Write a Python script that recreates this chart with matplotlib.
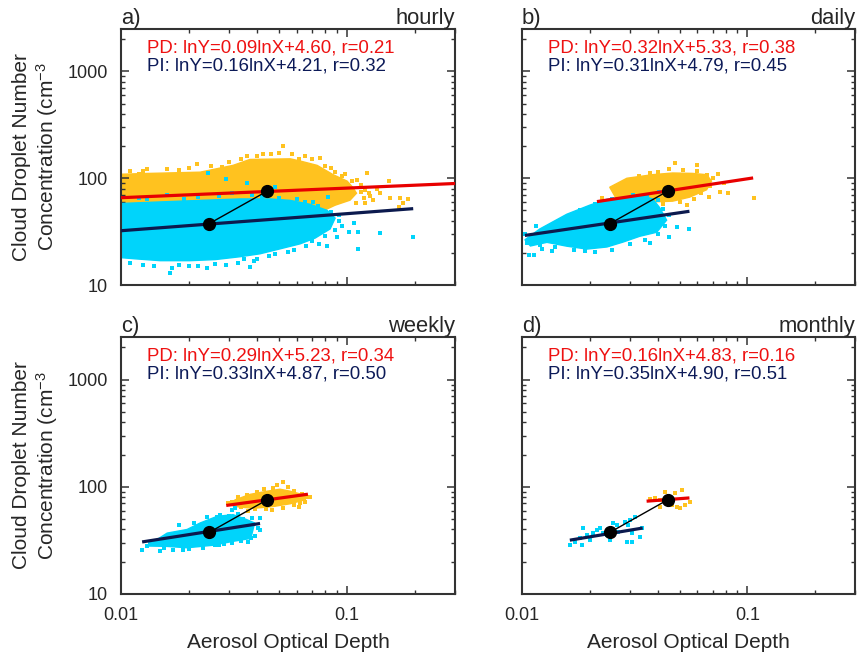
import numpy as np
import matplotlib
matplotlib.use("Agg")
import matplotlib.pyplot as plt
from matplotlib.ticker import FixedLocator, LogLocator, NullFormatter, FuncFormatter

plt.rcParams['font.family'] = ['Liberation Sans', 'DejaVu Sans']
plt.rcParams['mathtext.fontset'] = 'custom'
plt.rcParams['mathtext.rm'] = 'Liberation Sans'
plt.rcParams['mathtext.default'] = 'regular'

# ---------------------------------------------------------------- data
# Mean AOD / CDNC for pre-industrial (PI) and present-day (PD)
PI_MEAN = (0.0245, 37.5)
PD_MEAN = (0.0443, 75.7)

# Regression lnY = a lnX + b, correlation r, and x-range of each fit line
PANELS = ['hourly', 'daily', 'weekly', 'monthly']
LETTERS = ['a)', 'b)', 'c)', 'd)']
PD_SLOPE = [0.09, 0.32, 0.29, 0.16]
PD_INTERCEPT = [4.60, 5.33, 5.23, 4.83]
PD_R = [0.21, 0.38, 0.34, 0.16]
PI_SLOPE = [0.16, 0.31, 0.33, 0.35]
PI_INTERCEPT = [4.21, 4.79, 4.87, 4.90]
PI_R = [0.32, 0.45, 0.50, 0.51]
PD_FIT_RANGE = [(0.008, 0.35), (0.0215, 0.106), (0.0292, 0.0671), (0.0357, 0.0553)]
PI_FIT_RANGE = [(0.008, 0.196), (0.0103, 0.0553), (0.0124, 0.0412), (0.0163, 0.0343)]

# Hourly: outline of the dense point cloud plus the sparse points around it
HOURLY_PD_HULL_AOD = [0.00894, 0.0100, 0.0134, 0.0224, 0.0313, 0.0372, 0.0560, 0.0620, 0.0737,
                      0.0867, 0.100, 0.106, 0.110, 0.103, 0.0885, 0.0760, 0.0620, 0.0456, 0.0336,
                      0.0224, 0.0149, 0.0100, 0.00894]
HOURLY_PD_HULL_CDNC = [108, 109, 111, 114, 132, 150, 152, 145, 132, 108, 94, 82, 72.4, 62.3,
                       55.9, 48.1, 42.3, 42.3, 44.1, 44.1, 44.1, 44.1, 44.1]
HOURLY_PD_AOD = [0.0613, 0.0885, 0.1226, 0.1108, 0.1534, 0.1264, 0.1189, 0.155, 0.1716, 0.186,
                 0.177, 0.170, 0.1097, 0.0521, 0.0217, 0.0125, 0.0425, 0.0120, 0.0760, 0.028,
                 0.034, 0.046, 0.065, 0.080, 0.095, 0.016, 0.135, 0.140,
                 0.011, 0.013, 0.018, 0.020, 0.025, 0.030, 0.036, 0.040, 0.050, 0.057, 0.070,
                 0.085, 0.098, 0.105, 0.115, 0.120, 0.115, 0.125, 0.130, 0.120]
HOURLY_PD_CDNC = [151, 115, 111, 95.8, 93.8, 67.9, 65.0, 65.0, 65.0, 63.7, 58.4, 53.6, 58.4, 199,
                  135, 116, 168, 109, 154, 128, 150, 170, 160, 130, 105, 122, 80, 72,
                  118, 121, 120, 125, 130, 143, 160, 163, 172, 168, 150,
                  125, 110, 95, 86, 78, 75, 72, 62, 58]

HOURLY_PI_HULL_AOD = [0.00894, 0.0100, 0.0149, 0.0224, 0.0336, 0.0456, 0.0560, 0.0686, 0.0816,
                      0.0885, 0.0841, 0.0722, 0.0620, 0.0505, 0.0412, 0.0336, 0.0261, 0.0202,
                      0.0149, 0.0115, 0.00894]
HOURLY_PI_HULL_CDNC = [57, 58, 60, 62, 64, 64, 62, 57, 50, 42.3, 33.5, 27.5, 24.3, 21.8, 19.6,
                       18.4, 17.3, 16.9, 16.9, 17.6, 18.4]
HOURLY_PI_AOD = [0.1074, 0.102, 0.112, 0.140, 0.196, 0.112, 0.0816, 0.0824, 0.0165, 0.0240,
                 0.0372, 0.0388, 0.0350, 0.0243, 0.0292, 0.0361, 0.0480, 0.0168, 0.012, 0.016,
                 0.019, 0.027, 0.031, 0.038, 0.042, 0.050, 0.060, 0.065, 0.074, 0.092, 0.095,
                 0.090, 0.075, 0.0125, 0.020, 0.029, 0.045, 0.055,
                 0.011, 0.014, 0.018, 0.022, 0.026, 0.033, 0.040, 0.048, 0.058, 0.066, 0.070,
                 0.080, 0.088, 0.092, 0.085, 0.013, 0.022, 0.044, 0.071]
HOURLY_PI_CDNC = [38.0, 31.3, 31.3, 30.6, 28.1, 21.7, 23.1, 66.4, 12.9, 14.4, 14.7, 16.8, 17.5,
                  111, 97.9, 89.8, 82.4, 14.4, 66, 70, 64, 68, 72, 70, 67, 66, 64, 60, 55, 45,
                  36, 28, 24, 15.5, 15.2, 15.5, 18.5, 20.5,
                  16, 15, 15.5, 15, 15.8, 16.2, 17.5, 19.5, 21.5, 23, 26,
                  29, 33, 40, 48, 64, 67, 68, 60]

# Daily
DAILY_PD_HULL_AOD = [0.0245, 0.0292, 0.0380, 0.0466, 0.0571, 0.0659, 0.0693, 0.0659, 0.0554,
                     0.0466, 0.0380, 0.0316, 0.0263]
DAILY_PD_HULL_CDNC = [82.4, 100, 108, 112, 111, 108, 94, 78, 66.5, 61, 60, 61, 63.5]
DAILY_PD_AOD = [0.0475, 0.0369, 0.0744, 0.0791, 0.0752, 0.0824, 0.1074, 0.0672, 0.0537, 0.0226,
                0.0595, 0.026, 0.029, 0.033, 0.040, 0.045, 0.052, 0.060, 0.066, 0.070, 0.068,
                0.062, 0.058, 0.050, 0.042, 0.035, 0.028]
DAILY_PD_CDNC = [138, 111, 110, 89.8, 74.0, 72.4, 65.0, 66.4, 55.9, 65.0, 132, 85, 95, 105,
                 115, 121, 120, 118, 108, 100, 85, 72, 64, 60, 57, 58, 62]

DAILY_PI_HULL_AOD = [0.0103, 0.0120, 0.0158, 0.0200, 0.0238, 0.0292, 0.0333, 0.0380, 0.0408,
                     0.0438, 0.0396, 0.0333, 0.0280, 0.0238, 0.0194, 0.0158, 0.0129, 0.0109]
DAILY_PI_HULL_CDNC = [26.5, 33.5, 46, 56, 63.5, 67, 69.5, 64, 53, 40.5, 31.2, 28.6, 25.2, 22.7,
                      21.7, 23.1, 25.1, 23.2]
DAILY_PI_AOD = [0.0113, 0.01074, 0.01226, 0.01358, 0.0485, 0.0548, 0.0447, 0.0369, 0.0190,
                0.0404, 0.0103, 0.0115, 0.0105, 0.011, 0.0125, 0.014, 0.016, 0.018, 0.021, 0.025,
                0.031, 0.036, 0.040, 0.042, 0.045, 0.043, 0.040, 0.035, 0.030, 0.025, 0.021,
                0.017, 0.014, 0.012]
DAILY_PI_CDNC = [19.1, 19.1, 21.7, 20.8, 34.8, 33.4, 28.1, 24.7, 20.8, 74.0, 30.0, 36.0, 25,
                 28, 32, 38, 44, 50, 57, 64, 70, 70, 62, 52, 45, 36, 30, 26.5, 24, 21.5, 20.5,
                 21.5, 22.5, 23.5]

# Weekly
WEEKLY_PD_HULL_AOD = [0.0300, 0.0320, 0.0372, 0.0443, 0.0505, 0.0560, 0.0630, 0.0655, 0.0560,
                      0.0471, 0.0384, 0.0320]
WEEKLY_PD_HULL_CDNC = [69, 75.6, 85, 91, 95, 91, 85, 76, 69.5, 65.5, 63, 65.5]
WEEKLY_PD_AOD = [0.0521, 0.0490, 0.0686, 0.0613, 0.0466, 0.0298, 0.0365, 0.0620,
                 0.031, 0.033, 0.036, 0.040, 0.043, 0.047, 0.055, 0.058, 0.063, 0.066, 0.065,
                 0.058, 0.052, 0.044, 0.039, 0.034]
WEEKLY_PD_CDNC = [111, 104, 80.6, 65.0, 61.0, 70.9, 59.7, 70.9,
                  72, 80, 84, 90, 96, 98, 99, 92, 85, 80, 72, 67, 64, 62, 62, 65]

WEEKLY_PI_HULL_AOD = [0.0130, 0.0160, 0.0196, 0.0224, 0.0266, 0.0313, 0.0355, 0.0390, 0.0375,
                      0.0313, 0.0255, 0.0196, 0.0160, 0.0135]
WEEKLY_PI_HULL_CDNC = [28, 37, 40, 46, 53, 55, 50, 46, 33, 31, 28.5, 27, 27.8, 28]
WEEKLY_PI_AOD = [0.0310, 0.0320, 0.0380, 0.0412, 0.0404, 0.0412, 0.0188, 0.0261, 0.0240, 0.01488,
                 0.0124, 0.0135, 0.039, 0.0365, 0.0285, 0.021, 0.018,
                 0.013, 0.0145, 0.0155, 0.017, 0.0175, 0.019, 0.0205, 0.022, 0.0235, 0.025,
                 0.0265, 0.0275, 0.030, 0.033, 0.0345, 0.036, 0.037, 0.0375, 0.034, 0.031,
                 0.027, 0.023, 0.020, 0.017]
WEEKLY_PI_CDNC = [61.0, 63.7, 51.3, 51.3, 41.4, 39.6, 25.8, 28.7, 52.4, 25.2, 25.5, 29.5, 35.0,
                  30.5, 29.0, 46.0, 44.0,
                  28, 31, 27, 33, 36, 38, 34, 41, 44, 47, 52, 55, 54, 56, 50, 45, 40, 33, 31,
                  30, 28.5, 27, 26.5, 25.5]

# Monthly: individual points
MONTHLY_PD_AOD = [0.0388, 0.0408, 0.0475, 0.0511, 0.0485, 0.0500, 0.0526, 0.0554, 0.0408, 0.0461,
                  0.0369, 0.0443, 0.0429]
MONTHLY_PD_CDNC = [78.9, 75.6, 87.9, 93.8, 65.0, 63.7, 67.9, 72.4, 65.0, 67.9, 77.2, 80.6, 89.8]
MONTHLY_PI_AOD = [0.0163, 0.0172, 0.0181, 0.0184, 0.0186, 0.0194, 0.0200, 0.0206, 0.0215, 0.0221,
                  0.0228, 0.0245, 0.0253, 0.0263, 0.0266, 0.0286, 0.0294, 0.0301, 0.0316, 0.0292,
                  0.0307, 0.0307, 0.0333, 0.0340, 0.0238]
MONTHLY_PI_CDNC = [28.7, 30.6, 33.4, 28.7, 41.4, 35.6, 32.0, 37.2, 39.6, 41.4, 37.2, 32.0, 46.1,
                   44.1, 38.0, 47.1, 44.1, 49.2, 52.4, 30.6, 30.6, 37.2, 34.1, 41.4, 35.6]

PD_HULLS = [(HOURLY_PD_HULL_AOD, HOURLY_PD_HULL_CDNC), (DAILY_PD_HULL_AOD, DAILY_PD_HULL_CDNC),
            (WEEKLY_PD_HULL_AOD, WEEKLY_PD_HULL_CDNC), None]
PI_HULLS = [(HOURLY_PI_HULL_AOD, HOURLY_PI_HULL_CDNC), (DAILY_PI_HULL_AOD, DAILY_PI_HULL_CDNC),
            (WEEKLY_PI_HULL_AOD, WEEKLY_PI_HULL_CDNC), None]
PD_POINTS = [(HOURLY_PD_AOD, HOURLY_PD_CDNC), (DAILY_PD_AOD, DAILY_PD_CDNC),
             (WEEKLY_PD_AOD, WEEKLY_PD_CDNC), (MONTHLY_PD_AOD, MONTHLY_PD_CDNC)]
PI_POINTS = [(HOURLY_PI_AOD, HOURLY_PI_CDNC), (DAILY_PI_AOD, DAILY_PI_CDNC),
             (WEEKLY_PI_AOD, WEEKLY_PI_CDNC), (MONTHLY_PI_AOD, MONTHLY_PI_CDNC)]

# ---------------------------------------------------------------- style
PD_DOT = '#ffc21f'
PI_DOT = '#00d4fb'
PD_LINE = '#e80000'
PI_LINE = '#0c1a4e'
PD_TEXT = '#ee1111'
PI_TEXT = '#0c1a58'
INK = '#262626'
SPINE = '#333333'

fig = plt.figure(figsize=(8.58, 6.53), dpi=100)
W, H = 858.0, 653.0
boxes = [(121, 29, 455, 285), (522, 29, 855, 285), (121, 337, 455, 594), (522, 337, 855, 594)]


def fit_line(ax, slope, intercept, xrange, color):
    x = np.geomspace(xrange[0], xrange[1], 50)
    y = np.exp(slope * np.log(x) + intercept)
    ax.plot(x, y, color=color, lw=2.3, solid_capstyle='butt', zorder=5)


for i, (l, t, r, b) in enumerate(boxes):
    ax = fig.add_axes([l / W, 1 - b / H, (r - l) / W, (b - t) / H])
    ax.set_xscale('log')
    ax.set_yscale('log')
    ax.set_xlim(0.01, 0.3)
    ax.set_ylim(10, 2500)

    # PD cloud underneath, PI cloud on top
    if PD_HULLS[i] is not None:
        ax.fill(PD_HULLS[i][0], PD_HULLS[i][1], facecolor=PD_DOT, edgecolor=PD_DOT,
                lw=1.0, zorder=1)
    ax.scatter(PD_POINTS[i][0], PD_POINTS[i][1], s=8, marker='s', color=PD_DOT, lw=0, zorder=1.5)
    if PI_HULLS[i] is not None:
        ax.fill(PI_HULLS[i][0], PI_HULLS[i][1], facecolor=PI_DOT, edgecolor=PI_DOT,
                lw=1.0, zorder=2)
    ax.scatter(PI_POINTS[i][0], PI_POINTS[i][1], s=8, marker='s', color=PI_DOT, lw=0, zorder=2.5)

    fit_line(ax, PD_SLOPE[i], PD_INTERCEPT[i], PD_FIT_RANGE[i], PD_LINE)
    fit_line(ax, PI_SLOPE[i], PI_INTERCEPT[i], PI_FIT_RANGE[i], PI_LINE)

    ax.plot([PI_MEAN[0], PD_MEAN[0]], [PI_MEAN[1], PD_MEAN[1]], color='black', lw=1.0, zorder=6)
    ax.plot([PI_MEAN[0], PD_MEAN[0]], [PI_MEAN[1], PD_MEAN[1]], 'o', color='black',
            ms=8.5, zorder=7)

    ax.text(0.078, 0.926, f'PD: lnY={PD_SLOPE[i]:.2f}lnX+{PD_INTERCEPT[i]:.2f}, r={PD_R[i]:.2f}',
            transform=ax.transAxes, color=PD_TEXT, fontsize=13.4, va='center', ha='left')
    ax.text(0.078, 0.855, f'PI: lnY={PI_SLOPE[i]:.2f}lnX+{PI_INTERCEPT[i]:.2f}, r={PI_R[i]:.2f}',
            transform=ax.transAxes, color=PI_TEXT, fontsize=13.4, va='center', ha='left')

    ax.set_title(LETTERS[i], loc='left', fontsize=15.8, color=INK, pad=3)
    ax.set_title(PANELS[i], loc='right', fontsize=15.8, color=INK, pad=3)

    # ticks
    ax.xaxis.set_major_locator(FixedLocator([0.01, 0.1]))
    ax.xaxis.set_minor_locator(LogLocator(base=10, subs=np.arange(2, 10)))
    ax.yaxis.set_major_locator(FixedLocator([10, 100, 1000]))
    ax.yaxis.set_minor_locator(LogLocator(base=10, subs=np.arange(2, 10)))
    ax.xaxis.set_major_formatter(FuncFormatter(lambda v, p: f'{v:g}'))
    ax.yaxis.set_major_formatter(FuncFormatter(lambda v, p: f'{v:g}'))
    ax.xaxis.set_minor_formatter(NullFormatter())
    ax.yaxis.set_minor_formatter(NullFormatter())
    ax.tick_params(which='both', direction='in', top=True, right=True, color=SPINE,
                   labelcolor=INK, labelsize=13, pad=9.5)
    ax.tick_params(which='major', length=6, width=1.1)
    ax.tick_params(which='minor', length=3.2, width=1.0)
    ax.tick_params(labelbottom=(i >= 2), labelleft=(i % 2 == 0))
    for s in ax.spines.values():
        s.set_linewidth(1.5)
        s.set_color(SPINE)

    if i % 2 == 0:
        ax.set_ylabel('Cloud Droplet Number\nConcentration (cm$^{-3}$', fontsize=15,
                      color=INK, labelpad=5)
    if i >= 2:
        ax.set_xlabel('Aerosol Optical Depth', fontsize=15, color=INK, labelpad=6)

fig.savefig('out.png', dpi=100)
